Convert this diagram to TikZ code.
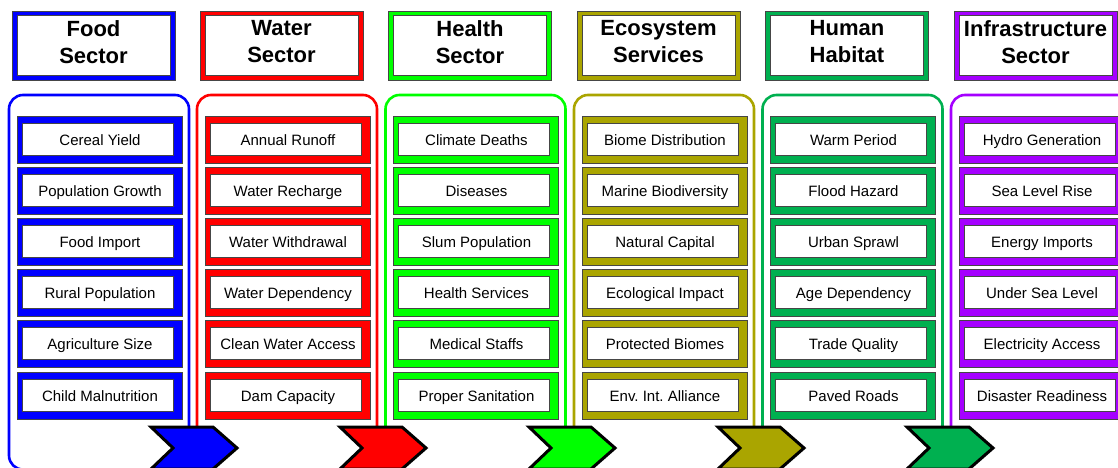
\documentclass[tikz,border=0pt]{standalone}
\usepackage{fontspec}
\setmainfont{Liberation Sans}
\frenchspacing

\definecolor{foodc}{RGB}{0,0,255}
\definecolor{waterc}{RGB}{255,0,0}
\definecolor{healthc}{RGB}{0,255,0}
\definecolor{ecoc}{RGB}{170,165,0}
\definecolor{habitatc}{RGB}{0,176,80}
\definecolor{infrac}{RGB}{165,0,255}
\definecolor{edgegray}{RGB}{70,70,70}

\tikzset{
  colframe/.style={fill=#1, draw=edgegray, line width=0.8pt, inner sep=0pt, outer sep=0pt},
  whitebox/.style={fill=white, draw=edgegray, line width=0.8pt, inner sep=0pt, outer sep=0pt},
  panel/.style={draw=#1, line width=2.6pt, rounded corners=14pt},
  chevron/.style={fill=#1, draw=black, line width=3pt, line join=miter},
  itemtext/.style={font=\fontsize{15}{18}\selectfont, text=black, inner sep=0pt,
                   text height=11pt, text depth=3pt},
  headtext/.style={font=\fontsize{22}{27}\selectfont\bfseries, align=center, text=black, inner sep=0pt},
}

% One sector column: #1 id, #2 left edge of panel, #3 colour, #4 title, #5 indicators
\newcommand\sectorcol[5]{%
  \draw[panel=#3] (#2,95) rectangle (#2+180,469.5);
  \node[colframe=#3, minimum width=163pt, minimum height=69pt] (hd#1) at (#2+84.5,45.5) {};
  \node[whitebox, minimum width=153pt, minimum height=60pt,
        label={[headtext, yshift=3pt]center:#4}] (ht#1) at (#2+84.5,45) {};
  \foreach \t [count=\k from 0] in {#5} {
    \pgfmathsetmacro\yc{139.5+51.2*\k}
    \node[colframe=#3, minimum width=165pt, minimum height=47pt] (fr#1-\k) at (#2+90.5,\yc) {};
    \node[whitebox, minimum width=151pt, minimum height=32pt,
          label={[itemtext, xshift=2.5pt, yshift=-2pt]center:\t}] (it#1-\k) at (#2+88.5,\yc-0.5) {};
  }
}

% Arrow chevron with left edge #1 and fill #2
\newcommand\chev[2]{%
  \draw[chevron=#2] (#1,427) -- (#1+62,427) -- (#1+86,448) -- (#1+62,469) -- (#1,469) -- (#1+22,448) -- cycle;
}

\begin{document}
\begin{tikzpicture}[x=1pt,y=-1pt]
  \useasboundingbox (0,0) rectangle (1118,468);
  \clip (0,0) rectangle (1118,468);
  \fill[white] (0,0) rectangle (1118,468);

  \sectorcol{f}{9}{foodc}{Food\\Sector}{Cereal Yield,Population Growth,Food Import,Rural Population,Agriculture Size,Child Malnutrition}
  \sectorcol{w}{197}{waterc}{Water\\Sector}{Annual Runoff,Water Recharge,Water Withdrawal,Water Dependency,Clean Water Access,Dam Capacity}
  \sectorcol{h}{385.5}{healthc}{Health\\Sector}{Climate Deaths,Diseases,Slum Population,Health Services,Medical Staffs,Proper Sanitation}
  \sectorcol{e}{574}{ecoc}{Ecosystem\\Services}{Biome Distribution,Marine Biodiversity,Natural Capital,Ecological Impact,Protected Biomes,Env. Int. Alliance}
  \sectorcol{m}{762.5}{habitatc}{Human\\Habitat}{Warm Period,Flood Hazard,Urban Sprawl,Age Dependency,Trade Quality,Paved Roads}
  \sectorcol{i}{951}{infrac}{Infrastructure\\Sector}{Hydro Generation,Sea Level Rise,Energy Imports,Under Sea Level,Electricity Access,Disaster Readiness}

  \chev{151}{foodc}
  \chev{340}{waterc}
  \chev{529}{healthc}
  \chev{718}{ecoc}
  \chev{907}{habitatc}
\end{tikzpicture}
\end{document}
